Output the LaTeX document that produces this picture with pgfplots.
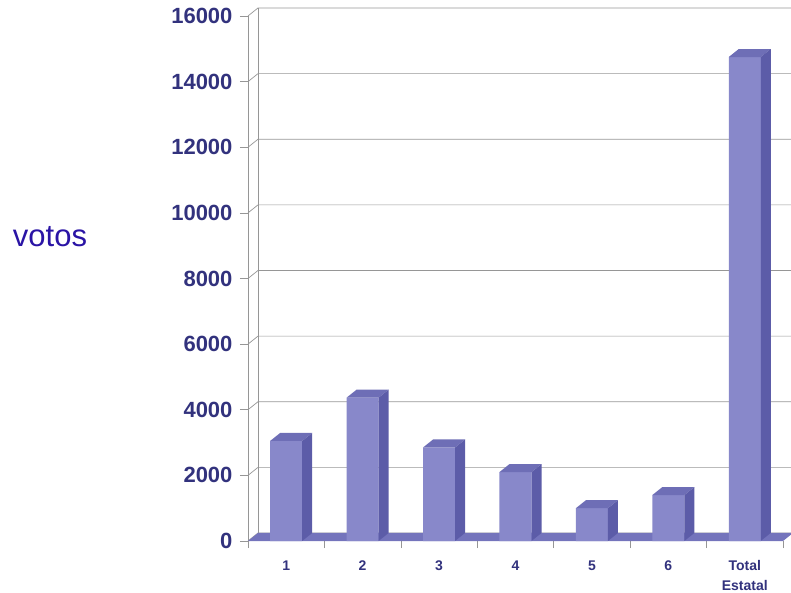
\documentclass[border=0pt]{standalone}
\usepackage{fontspec}
\setmainfont{Liberation Sans}
\usepackage{pgfplots}
\usepackage{pgfplotstable}
\pgfplotsset{compat=1.18}

\definecolor{frontc}{RGB}{136,136,202}
\definecolor{sidec}{RGB}{92,92,168}
\definecolor{topc}{RGB}{110,110,182}
\definecolor{floorc}{RGB}{116,116,188}
\definecolor{gridc}{RGB}{150,150,150}
\definecolor{tickc}{RGB}{50,50,125}
\definecolor{votosc}{RGB}{42,20,165}

% top and right faces of a bar, drawn at the top centre of its front face
\pgfdeclareplotmark{barfaces}{%
  \pgfsetfillcolor{topc}%
  \pgfpathmoveto{\pgfpoint{-16bp}{0bp}}%
  \pgfpathlineto{\pgfpoint{16bp}{0bp}}%
  \pgfpathlineto{\pgfpoint{26bp}{8bp}}%
  \pgfpathlineto{\pgfpoint{-6bp}{8bp}}%
  \pgfpathclose
  \pgfusepath{fill}%
  \pgfsetfillcolor{sidec}%
  \pgfpathmoveto{\pgfpoint{16bp}{0bp}}%
  \pgfpathlineto{\pgfpoint{26bp}{8bp}}%
  \pgfpathlineto{\pgfpoint{26bp}{8bp-\rawv*0.0328125bp}}%
  \pgfpathlineto{\pgfpoint{16bp}{-\rawv*0.0328125bp}}%
  \pgfpathclose
  \pgfusepath{fill}%
}

\pgfplotstableread{
x v
1 3050
2 4370
3 2850
4 2100
5 1000
6 1400
7 14750
}\votos

\begin{document}
\begin{tikzpicture}
\path[use as bounding box] (-248bp,-52bp) rectangle (543bp,541bp);
\begin{axis}[
    at={(0,0)}, anchor=south west,
    scale only axis, width=535bp, height=525bp,
    xmin=0.5, xmax=7.5, ymin=0, ymax=16000,
    clip=false,
    axis lines*=left,
    axis line style={-, draw=gridc, line width=0.7bp},
    x axis line style={draw=none},
    xtick={1,2,3,4,5,6,7},
    xticklabels={1,2,3,4,5,6,{Total\\Estatal}},
    xticklabel style={align=center, text=tickc, yshift=-8bp,
        font=\fontsize{14bp}{20bp}\selectfont\bfseries},
    major x tick style={draw=none},
    minor xtick={0.5,1.5,2.5,3.5,4.5,5.5,6.5,7.5},
    ytick={0,2000,4000,6000,8000,10000,12000,14000,16000},
    yticklabel style={text=tickc, xshift=-4bp,
        font=\fontsize{22bp}{26bp}\selectfont\bfseries},
    tick align=outside,
    major tick length=8bp, minor tick length=7bp,
    tick style={gridc, line width=0.7bp},
    /pgf/number format/assume math mode=true,
    /pgf/number format/1000 sep={},
    scaled y ticks=false,
    ylabel={votos},
    ylabel style={rotate=-90, at={(axis description cs:-0.37,0.58)}, anchor=center,
        font=\fontsize{31bp}{34bp}\selectfont, text=votosc},
]
% back wall and side wall lines
\pgfplotsinvokeforeach{0,2000,4000,6000,8000,10000,12000,14000,16000}{
  \draw[gridc, line width=0.7bp] (axis cs:0.5,#1)
    -- ([xshift=10bp,yshift=8bp]axis cs:0.5,#1)
    -- ([xshift=10bp,yshift=8bp]axis cs:7.5,#1);
}
\draw[gridc, line width=0.7bp] ([xshift=10bp,yshift=8bp]axis cs:0.5,0)
  -- ([xshift=10bp,yshift=8bp]axis cs:0.5,16000);
% floor
\fill[floorc] (axis cs:0.5,0) -- (axis cs:7.5,0)
  -- ([xshift=10bp,yshift=8bp]axis cs:7.5,0)
  -- ([xshift=10bp,yshift=8bp]axis cs:0.5,0) -- cycle;

\addplot[ybar, bar width=32bp, fill=frontc, draw=none] table[x=x, y=v] {\votos};
\addplot[only marks, mark=barfaces, visualization depends on={rawy \as \rawv}]
  table[x=x, y=v] {\votos};
\end{axis}
\end{tikzpicture}
\end{document}
